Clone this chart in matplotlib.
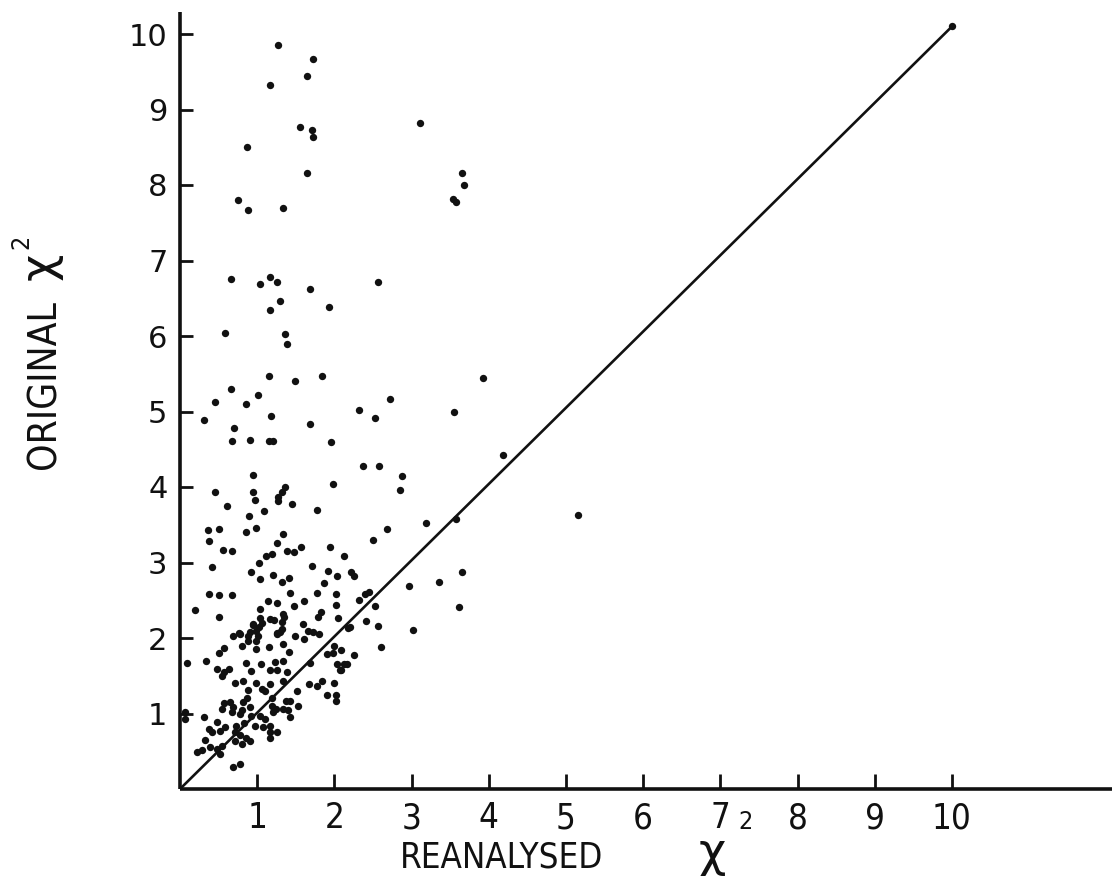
import matplotlib
matplotlib.use("Agg")
import matplotlib.pyplot as plt

# Chi-square of each fit: reanalysed (x) against original (y)
reanalysed_chi2 = [
    1.27, 1.72, 1.64, 1.17, 3.11, 1.55, 1.71, 1.72, 0.87, 1.65, 3.65, 3.68, 3.53, 3.58,
    0.75, 0.88, 1.33,
    0.66, 1.03, 1.17, 1.26, 1.68, 2.56, 1.30, 1.17, 1.93, 0.58, 1.36, 1.39, 1.15, 1.49,
    1.84, 0.66, 1.01, 2.72, 0.45, 0.85, 2.32, 1.18, 2.52, 0.31, 0.70, 1.69, 0.68, 0.91,
    1.15, 1.20, 1.95, 2.37, 2.58, 2.88, 2.85, 0.95, 0.45, 0.95, 0.97, 1.36, 1.32, 1.27,
    1.27, 1.98, 1.45, 0.61,
    3.92, 3.55, 4.18, 3.19, 3.58, 5.16, 2.68, 2.50, 2.22, 2.25, 3.65, 3.35, 2.96, 2.39,
    2.45, 2.32, 2.53, 3.62, 2.41, 2.57, 3.02, 2.20, 2.60,
    1.77, 0.90, 1.09, 0.36, 0.51, 0.85, 0.99, 1.34, 0.38, 1.26, 1.57, 1.94, 0.56, 0.67,
    1.11, 1.19, 1.38, 1.48, 2.13, 0.42, 1.02, 1.71, 0.92, 1.20, 1.41, 1.92, 2.04, 1.03,
    1.32, 1.86, 0.38, 0.50, 0.68, 1.43, 1.78, 2.02, 0.19, 1.14, 1.25, 1.48, 1.60, 2.02,
    1.03, 1.82, 1.79, 0.51, 1.04, 1.16, 1.35, 2.05, 0.94, 1.06, 1.32, 1.59, 2.18, 0.69,
    0.78, 0.91, 0.99, 1.01, 1.25, 1.32, 1.49, 1.61, 1.66, 1.72, 1.80, 0.80, 0.98, 1.15,
    1.34, 0.57, 1.99, 2.08, 0.51, 1.41, 1.90, 1.98, 2.25, 0.09, 0.34, 0.86, 1.05, 1.23,
    1.33, 2.04, 2.12, 1.69, 0.48, 0.57, 0.63, 0.92, 1.16, 1.25, 1.38, 2.07, 0.55, 0.71,
    0.81, 0.98, 1.06, 1.17, 1.34, 1.67, 1.77, 1.84, 1.99, 0.88, 1.10, 1.52, 1.90, 2.02,
    2.02, 0.87, 0.81, 1.19, 0.57, 0.65, 0.54, 0.69, 0.80, 0.91, 1.19, 1.24, 1.37, 1.43,
    1.53, 1.34, 1.40, 0.06, 0.31, 0.06, 0.67, 0.78, 0.92, 1.04, 1.10, 1.43, 1.20, 0.48,
    0.58, 0.73, 0.83, 0.97, 1.08, 1.17, 1.16, 1.25, 1.16, 0.37, 0.42, 0.52, 0.71, 0.78,
    0.86, 0.32, 0.71, 0.80, 0.91, 0.54, 0.48, 0.28, 0.22, 0.39, 0.52, 0.69, 0.78,
    2.16, 2.08, 0.76, 0.88, 0.94, 1.02, 0.88, 0.99, 1.22, 1.34, 1.30, 1.26,
]
original_chi2 = [
    9.85, 9.67, 9.44, 9.32, 8.82, 8.77, 8.73, 8.64, 8.50, 8.16, 8.16, 8.00, 7.81, 7.78,
    7.80, 7.67, 7.70,
    6.76, 6.69, 6.78, 6.72, 6.62, 6.72, 6.46, 6.34, 6.38, 6.04, 6.02, 5.89, 5.47, 5.40,
    5.47, 5.30, 5.22, 5.17, 5.12, 5.10, 5.02, 4.94, 4.92, 4.89, 4.78, 4.84, 4.61, 4.62,
    4.61, 4.61, 4.59, 4.28, 4.28, 4.15, 3.96, 4.16, 3.94, 3.94, 3.83, 4.00, 3.93, 3.87,
    3.81, 4.04, 3.77, 3.75,
    5.44, 4.99, 4.43, 3.52, 3.58, 3.63, 3.45, 3.30, 2.88, 2.82, 2.87, 2.74, 2.69, 2.58,
    2.61, 2.50, 2.43, 2.41, 2.22, 2.16, 2.10, 2.15, 1.88,
    3.70, 3.61, 3.68, 3.43, 3.44, 3.41, 3.46, 3.38, 3.28, 3.26, 3.21, 3.21, 3.17, 3.15,
    3.09, 3.11, 3.15, 3.14, 3.09, 2.94, 3.00, 2.95, 2.87, 2.84, 2.80, 2.89, 2.82, 2.78,
    2.74, 2.73, 2.58, 2.57, 2.57, 2.59, 2.59, 2.58, 2.37, 2.49, 2.46, 2.43, 2.49, 2.44,
    2.38, 2.35, 2.28, 2.28, 2.26, 2.25, 2.28, 2.27, 2.19, 2.20, 2.21, 2.19, 2.13, 2.03,
    2.05, 2.08, 2.09, 2.02, 2.07, 2.12, 2.02, 1.99, 2.09, 2.08, 2.05, 1.90, 1.85, 1.88,
    1.92, 1.87, 1.90, 1.84, 1.80, 1.81, 1.79, 1.80, 1.77, 1.67, 1.70, 1.67, 1.66, 1.68,
    1.70, 1.66, 1.66, 1.67, 1.59, 1.55, 1.59, 1.56, 1.57, 1.58, 1.55, 1.57, 1.50, 1.40,
    1.43, 1.41, 1.33, 1.39, 1.43, 1.39, 1.36, 1.43, 1.40, 1.31, 1.30, 1.30, 1.25, 1.25,
    1.17, 1.21, 1.15, 1.21, 1.14, 1.15, 1.06, 1.08, 1.05, 1.08, 1.10, 1.06, 1.17, 1.17,
    1.10, 1.06, 1.05, 1.02, 0.95, 0.93, 1.02, 0.99, 0.97, 0.97, 0.93, 0.95, 1.02, 0.89,
    0.82, 0.84, 0.88, 0.84, 0.82, 0.84, 0.75, 0.75, 0.68, 0.79, 0.75, 0.77, 0.75, 0.71,
    0.68, 0.65, 0.64, 0.60, 0.63, 0.57, 0.53, 0.52, 0.49, 0.55, 0.46, 0.29, 0.33,
    1.66, 1.58, 2.06, 2.03, 2.17, 2.14, 1.96, 1.96, 2.24, 2.32, 2.08, 2.05,
]

# Equality line drawn up to its end point
line_x = [0.0, 10.0]
line_y = [0.0, 10.1]

x_ticks = [1, 2, 3, 4, 5, 6, 7, 8, 9, 10]
y_ticks = [1, 2, 3, 4, 5, 6, 7, 8, 9, 10]

W, H = 1120, 889
fig = plt.figure(figsize=(W / 100, H / 100), dpi=100)
fig.patch.set_facecolor("white")
plt.rcParams["mathtext.fontset"] = "dejavusans"

x0, y0 = 180, 789          # pixel position of the origin
px_per_x, px_per_y = 77.2, 75.5
right_px, top_px = 1112, 12
ax = fig.add_axes([x0 / W, (H - y0) / H, (right_px - x0) / W, (y0 - top_px) / H])
ax.set_xlim(0, (right_px - x0) / px_per_x)
ax.set_ylim(0, (y0 - top_px) / px_per_y)

ink = "#111111"
for side in ("top", "right"):
    ax.spines[side].set_visible(False)
for side in ("left", "bottom"):
    ax.spines[side].set_linewidth(2.6)
    ax.spines[side].set_color(ink)
    ax.spines[side].set_capstyle("butt")

narrow = dict(family=["DejaVu Sans"], fontstretch="condensed")

ax.set_xticks(x_ticks)
ax.set_xticklabels([str(t) for t in x_ticks], fontsize=25, color=ink, **narrow)
ax.set_yticks(y_ticks)
ax.set_yticklabels([str(t) for t in y_ticks], family=["DejaVu Sans"], fontsize=22, color=ink)
ax.tick_params(axis="x", direction="in", length=11, width=2.0, pad=9, colors=ink)
ax.tick_params(axis="y", direction="in", length=9, width=2.0, pad=9, colors=ink)

ax.plot(line_x, line_y, color=ink, lw=1.9, solid_capstyle="round", zorder=2)
ax.scatter([line_x[-1]], [line_y[-1]], s=28, color=ink, zorder=3, linewidths=0)
ax.scatter(reanalysed_chi2, original_chi2, s=28, color=ink, linewidths=0, zorder=3,
           clip_on=False)

# Axis titles with a raised 2 after the chi
chi = r"$\mathregular{χ}$"
fig.text(502 / W, 1 - 857 / H, "REANALYSED", fontsize=25, color=ink,
         ha="center", va="center", **narrow)
fig.text(712 / W, 1 - 855 / H, chi, fontsize=34, color=ink,
         ha="center", va="center")
fig.text(746 / W, 1 - 822 / H, "2", fontsize=18, color=ink,
         ha="center", va="center", **narrow)

fig.text(44 / W, 1 - 385 / H, "ORIGINAL", fontsize=28, rotation=90, color=ink,
         ha="center", va="center", **narrow)
fig.text(43 / W, 1 - 268 / H, chi, fontsize=34, rotation=90, color=ink,
         ha="center", va="center")
fig.text(21 / W, 1 - 242 / H, "2", fontsize=18, rotation=90, color=ink,
         ha="center", va="center", **narrow)

fig.savefig("out.png", dpi=100, facecolor="white")
